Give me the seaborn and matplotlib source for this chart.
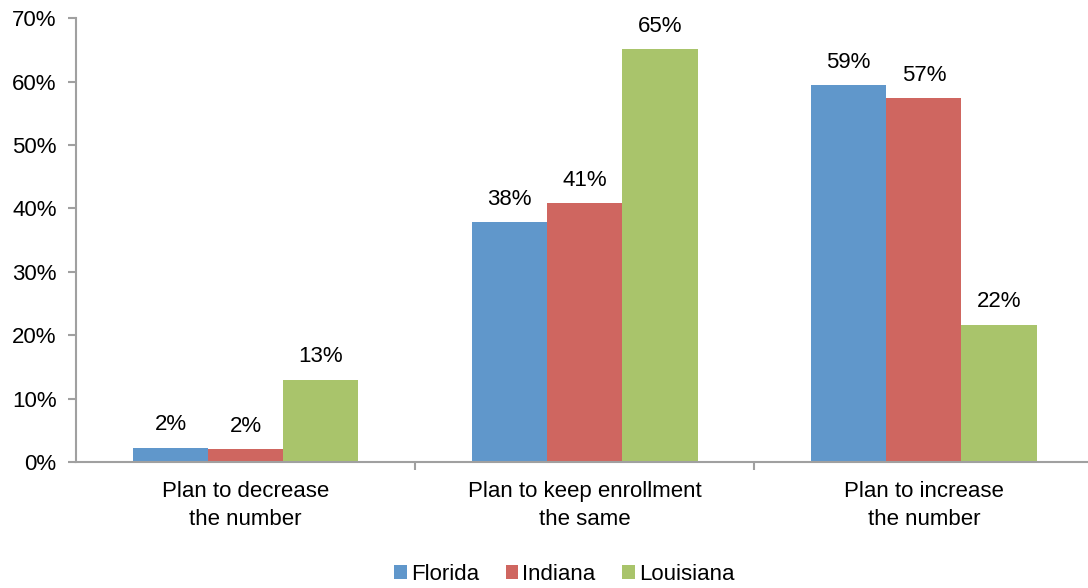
import seaborn as sns
import numpy as np
import pandas as pd
from matplotlib import pyplot as plt
from matplotlib.ticker import FixedLocator, PercentFormatter

categories = ["Plan to decrease\nthe number", "Plan to keep enrollment\nthe same", "Plan to increase\nthe number"]
states = ["Florida", "Indiana", "Louisiana"]
florida = [2.3, 37.8, 59.4]
indiana = [2.0, 40.8, 57.4]
louisiana = [13.0, 65.1, 21.7]
colors = ["#6097CB", "#CF6660", "#A9C46B"]

rows = []
for state, vals in zip(states, [florida, indiana, louisiana]):
    for cat, v in zip(categories, vals):
        rows.append({"category": cat, "state": state, "value": v})
df = pd.DataFrame(rows)

sns.set_style("white")
plt.rcParams['font.family'] = ['Liberation Sans', 'DejaVu Sans']
plt.rcParams['text.color'] = 'black'
plt.rcParams['xtick.labelcolor'] = 'black'
plt.rcParams['ytick.labelcolor'] = 'black'
fs = 16

fig = plt.figure(figsize=(10.88, 5.88), dpi=100)
ax = fig.add_axes([0.070, 0.214, 0.935, 0.755])

sns.barplot(data=df, x="category", y="value", hue="state", palette=colors,
            width=0.665, saturation=1, ax=ax, errorbar=None, linewidth=0)

for container in ax.containers:
    ax.bar_label(container, labels=["%d%%" % round(v) for v in container.datavalues],
                 padding=9, fontsize=fs, color="black")

ax.set_ylim(0, 70)
ax.set_xlim(-0.5, 2.5)
ax.set_yticks(np.arange(0, 71, 10))
ax.yaxis.set_major_formatter(PercentFormatter(decimals=0))
ax.tick_params(axis="y", labelsize=fs, left=True, length=6, color="#A0A0A0", width=1.5, pad=8)
ax.tick_params(axis="x", labelsize=fs, bottom=False, pad=10)
for lbl in ax.get_xticklabels():
    lbl.set_linespacing(1.45)
ax.xaxis.set_minor_locator(FixedLocator([0.5, 1.5, 2.5]))
ax.tick_params(axis="x", which="minor", bottom=True, length=6, color="#A0A0A0", width=1.5)
ax.set_xlabel("")
ax.set_ylabel("")

for side in ["top", "right"]:
    ax.spines[side].set_visible(False)
for side in ["left", "bottom"]:
    ax.spines[side].set_color("#A0A0A0")
    ax.spines[side].set_linewidth(1.5)

ax.legend(loc="center", bbox_to_anchor=(0.48, -0.253), ncol=3, frameon=False,
          fontsize=fs, handlelength=0.55, handleheight=0.55, handletextpad=0.2,
          columnspacing=1.2)

plt.savefig("out.png", dpi=100)
